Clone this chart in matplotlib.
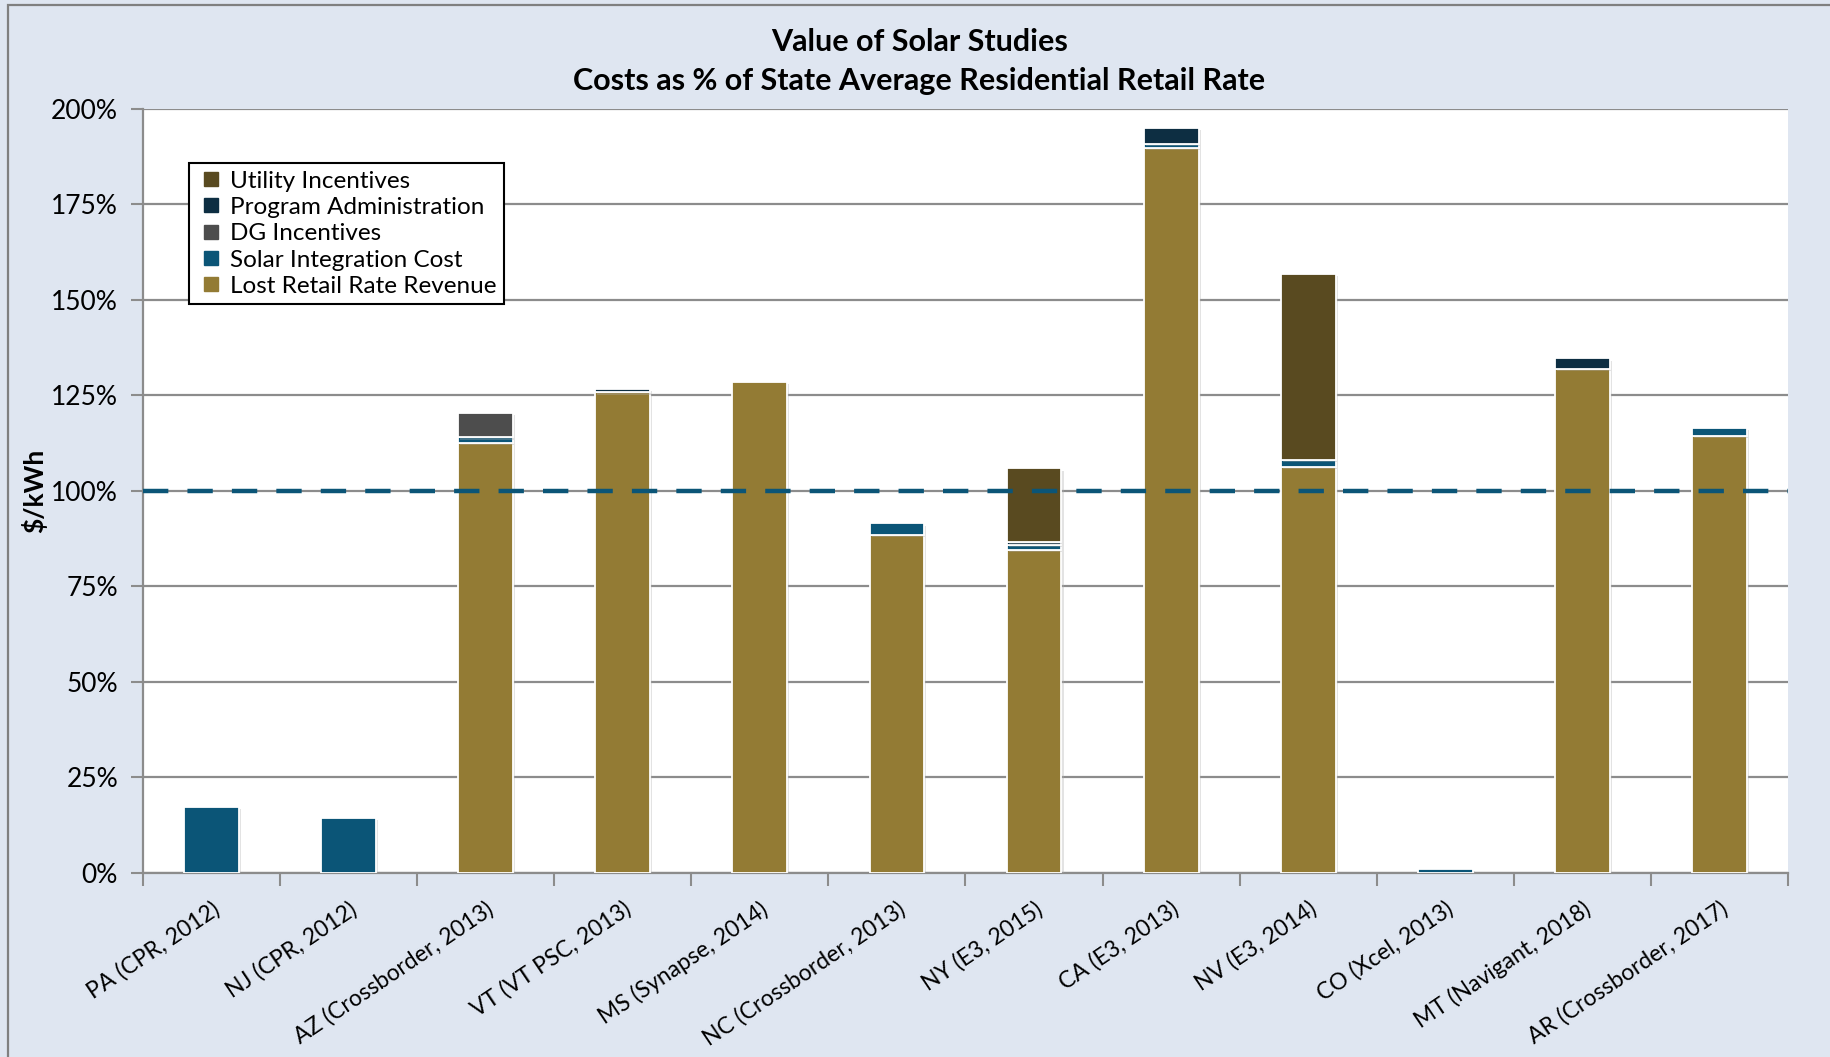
import numpy as np
import matplotlib
matplotlib.use("Agg")
import matplotlib.pyplot as plt
import matplotlib.patheffects as pe
from matplotlib.lines import Line2D
from matplotlib.patches import Rectangle

plt.rcParams['font.family'] = ['Lato', 'DejaVu Sans']

studies = ['PA (CPR, 2012)', 'NJ (CPR, 2012)', 'AZ (Crossborder, 2013)',
           'VT (VT PSC, 2013)', 'MS (Synapse, 2014)', 'NC (Crossborder, 2013)',
           'NY (E3, 2015)', 'CA (E3, 2013)', 'NV (E3, 2014)', 'CO (Xcel, 2013)',
           'MT (Navigant, 2018)', 'AR (Crossborder, 2017)']

# cost components, % of state average residential retail rate
lost_revenue = [0, 0, 112.5, 125.8, 128.6, 88.6, 84.6, 189.8, 106.3, 0, 131.9, 114.4]
integration = [17.4, 14.5, 1.5, 0, 0, 2.9, 1.2, 1.0, 1.8, 1.0, 0, 2.1]
dg_incentives = [0, 0, 6.5, 0, 0, 0, 0, 0, 0, 0, 0, 0]
program_admin = [0, 0, 0, 0.8, 0, 0, 0.9, 4.3, 0, 0, 2.8, 0]
utility_incentives = [0, 0, 0, 0, 0, 0, 19.2, 0, 48.6, 0, 0, 0]

series = [
    ('Lost Retail Rate Revenue', lost_revenue, '#937B34'),
    ('Solar Integration Cost', integration, '#0B5577'),
    ('DG Incentives', dg_incentives, '#4D4D4D'),
    ('Program Administration', program_admin, '#0D2E42'),
    ('Utility Incentives', utility_incentives, '#594A20'),
]

bg = '#DFE6F1'
fig = plt.figure(figsize=(18.31, 10.57), dpi=100, facecolor=bg)
ax = fig.add_axes([0.0781, 0.1741, 0.8984, 0.7228])
ax.set_facecolor('white')

x = np.arange(len(studies))
bottom = np.zeros(len(studies))
shadow = [pe.SimplePatchShadow(offset=(1.5, -1.5), shadow_rgbFace='#B0B0B0', alpha=0.35),
          pe.Normal()]
for name, vals, color in series:
    vals = np.array(vals, dtype=float)
    idx = vals > 0
    bars = ax.bar(x[idx], vals[idx], width=0.4, bottom=bottom[idx], color=color,
                  edgecolor='white', linewidth=1.3, zorder=3)
    for b in bars:
        b.set_path_effects(shadow)
    bottom += vals

# break-even reference line
ax.axhline(100, color='#0B5577', lw=3.2, dashes=(5.7, 4.3), zorder=5, clip_on=False)

ax.set_ylim(0, 200)
ax.set_xlim(-0.5, len(studies) - 0.5)
ax.set_yticks(np.arange(0, 201, 25))
ax.set_yticklabels([f'{v}%' for v in range(0, 201, 25)], fontsize=19)
ax.yaxis.grid(True, color='#8C8C8C', lw=1.6)
ax.set_axisbelow(True)

ax.set_xticks(np.arange(-0.5, len(studies)), labels=[''] * (len(studies) + 1))
ax.set_xticks(x, minor=True)
ax.set_xticklabels(studies, minor=True, rotation=34, ha='right',
                   rotation_mode='anchor', fontsize=16.5)
ax.tick_params(axis='x', which='minor', length=0, pad=18)
ax.tick_params(axis='x', which='major', length=9, width=1.5, color='#8C8C8C')
ax.tick_params(axis='y', length=9, width=1.5, color='#8C8C8C', pad=9)

for side in ['top', 'right']:
    ax.spines[side].set_visible(False)
for side in ['left', 'bottom']:
    ax.spines[side].set_color('#8C8C8C')
    ax.spines[side].set_linewidth(1.6)

ax.set_ylabel('$/kWh', fontsize=19, fontweight='bold')
ax.yaxis.set_label_coords(-0.058, 0.5)

handles = [Line2D([], [], marker='s', ls='', markersize=10, color=c, label=n)
           for n, _, c in reversed(series)]
leg = ax.legend(handles=handles, loc='upper left', bbox_to_anchor=(0.028, 0.929),
                borderaxespad=0, fontsize=17.5, frameon=True, fancybox=False,
                edgecolor='black', framealpha=1, handletextpad=0.2, borderpad=0.3,
                labelspacing=0.22, handlelength=1.2)
leg.get_frame().set_linewidth(1.5)
leg.set_zorder(6)

fig.text(0.502, 0.960, 'Value of Solar Studies', ha='center', va='center',
         fontsize=22, fontweight='bold')
fig.text(0.502, 0.923, 'Costs as % of State Average Residential Retail Rate',
         ha='center', va='center', fontsize=22, fontweight='bold')

fig.patches.append(Rectangle((8 / 1831, -0.05), 1.2, 1 - 5 / 1057 + 0.05,
                             transform=fig.transFigure, fill=False,
                             edgecolor='#808080', lw=1.6))

fig.savefig('out.png', dpi=100, facecolor=bg)
